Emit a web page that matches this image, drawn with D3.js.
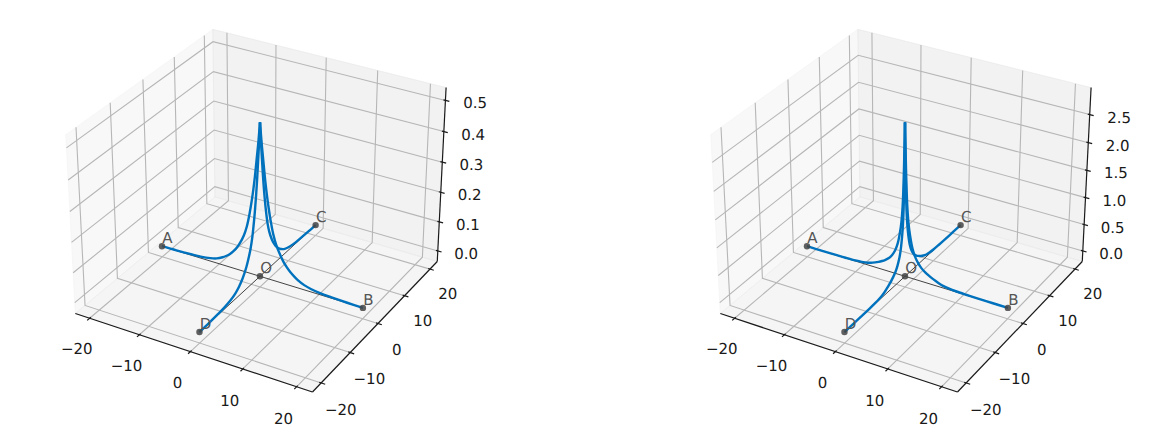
<!DOCTYPE html>
<html>
<head>
<meta charset="utf-8">
<script src="https://cdn.jsdelivr.net/npm/d3@7"></script>
<style>
html, body { margin: 0; padding: 0; background: #fff; }
svg { display: block; }
text { font-family: "DejaVu Sans", sans-serif; text-rendering: geometricPrecision; }
</style>
</head>
<body>
<div id="chart"></div>
<script>
// values
var xTicks = [-20, -10, 0, 10, 20]
var yTicks = [-20, -10, 0, 10, 20]
var zTicksLeft = [0, 0.1, 0.2, 0.3, 0.4, 0.5]
var zTicksRight = [0, 0.5, 1, 1.5, 2, 2.5]
var zLimLeft = [-0.0252, 0.5292]
var zLimRight = [-0.1385, 2.9085]
var xyLim = [-22, 22]

var pointNames = ['A', 'B', 'C', 'D', 'O']
var pointX = [-20, 20, 0, 0, 0]
var pointY = [0, 0, 20, -20, 0]

// distance from O along an arm, and curve height at that distance
var armDist = [0, 0.1, 0.2, 0.33, 0.46, 0.7, 1, 1.3, 1.6, 2, 2.6, 3.2, 4, 4.6, 5.3, 6, 6.8, 7.5, 8.7, 10, 12, 14, 17, 20]
var heightLeft = [0.504, 0.483, 0.463, 0.437, 0.415, 0.375, 0.325, 0.283, 0.247, 0.205, 0.155, 0.122, 0.092, 0.074, 0.058, 0.045, 0.034, 0.026, 0.016, 0.010, 0.005, 0.003, 0.001, 0]
var heightRight = [2.77, 2.35, 1.95, 1.55, 1.28, 0.99, 0.78, 0.63, 0.52, 0.42, 0.32, 0.25, 0.19, 0.155, 0.12, 0.09, 0.06, 0.04, 0.022, 0.012, 0.006, 0.003, 0.001, 0]
// unit direction of each arm, same order as the points A B C D
var armDirX = [-1, 1, 0, 0]
var armDirY = [0, 0, 1, -1]

var width = 1166
var height = 446
var blue = '#0072bd'
var grey = '#444444'
var ink = '#1a1a1a'

var svg = d3.select('#chart').append('svg').attr('width', width).attr('height', height)

// mplot3d style camera, elev 30, azim -60
var camDist = 9
var halfX = 0.5952
var halfZ = 0.4464
var u = [0.866, 0.5, 0]
var v = [-0.25, 0.433, 0.866]
var w = [0.433, -0.75, 0.5]
var pixelX = d3.scaleLinear().domain([0, 1]).range([260, 488])
var pixelY = d3.scaleLinear().domain([0, 1]).range([201, -27])

function dot(a, b) { return a[0] * b[0] + a[1] * b[1] + a[2] * b[2] }

function project(c) {
    var f = camDist / (camDist - dot(w, c))
    return [pixelX(dot(u, c) * f), pixelY(dot(v, c) * f)]
}

function panel(offset, zTicks, zLim, heights, zFormat) {
    var g = svg.append('g').attr('transform', 'translate(' + offset + ',0)')

    // panes sit a little outside the axis limits
    var padXY = (xyLim[1] - xyLim[0]) / 48
    var padZ = (zLim[1] - zLim[0]) / 48
    var sx = d3.scaleLinear().domain([xyLim[0] - padXY, xyLim[1] + padXY]).range([-halfX, halfX])
    var sy = d3.scaleLinear().domain([xyLim[0] - padXY, xyLim[1] + padXY]).range([-halfX, halfX])
    var sz = d3.scaleLinear().domain([zLim[0] - padZ, zLim[1] + padZ]).range([-halfZ, halfZ])
    var p3 = function(x, y, z) { return project([sx(x), sy(y), sz(z)]) }
    var line = d3.line()

    var x0 = sx.domain()[0], x1 = sx.domain()[1]
    var y0 = sy.domain()[0], y1 = sy.domain()[1]
    var z0 = sz.domain()[0], z1 = sz.domain()[1]

    var panes = [
        { fill: 'rgba(242,242,242,0.5)', pts: [[x0, y0, z0], [x0, y1, z0], [x0, y1, z1], [x0, y0, z1]] },
        { fill: 'rgba(230,230,230,0.5)', pts: [[x0, y1, z0], [x1, y1, z0], [x1, y1, z1], [x0, y1, z1]] },
        { fill: 'rgba(236,236,236,0.5)', pts: [[x0, y0, z0], [x1, y0, z0], [x1, y1, z0], [x0, y1, z0]] }
    ]
    g.selectAll('path.pane').data(panes).enter().append('path')
        .attr('class', 'pane')
        .attr('fill', d => d.fill)
        .attr('stroke', d => d.fill)
        .attr('d', d => line(d.pts.map(q => p3(q[0], q[1], q[2]))) + 'Z')

    // grid
    var gridPaths = []
    xTicks.forEach(t => gridPaths.push([p3(t, y0, z0), p3(t, y1, z0), p3(t, y1, z1)]))
    yTicks.forEach(t => gridPaths.push([p3(x1, t, z0), p3(x0, t, z0), p3(x0, t, z1)]))
    zTicks.forEach(t => gridPaths.push([p3(x0, y0, t), p3(x0, y1, t), p3(x1, y1, t)]))
    g.selectAll('path.grid').data(gridPaths).enter().append('path')
        .attr('class', 'grid')
        .attr('fill', 'none')
        .attr('stroke', '#b6b6b6')
        .attr('stroke-width', 1.1)
        .attr('d', line)

    // axis lines
    var axisPaths = [
        [p3(x0, y0, z0), p3(x1, y0, z0)],
        [p3(x1, y0, z0), p3(x1, y1, z0)],
        [p3(x1, y1, z0), p3(x1, y1, z1)]
    ]
    g.selectAll('path.axis').data(axisPaths).enter().append('path')
        .attr('class', 'axis')
        .attr('fill', 'none')
        .attr('stroke', ink)
        .attr('stroke-width', 1.2)
        .attr('d', line)

    // ticks
    var dXY = (xyLim[1] - xyLim[0]) / 12
    var inner = 0.1, outer = 0.2
    var tickPaths = []
    xTicks.forEach(t => tickPaths.push([p3(t, y0 + inner * dXY, z0), p3(t, y0 - outer * dXY, z0)]))
    yTicks.forEach(t => tickPaths.push([p3(x1 - inner * dXY, t, z0), p3(x1 + outer * dXY, t, z0)]))
    zTicks.forEach(t => tickPaths.push([p3(x1 - inner * dXY, y1, t), p3(x1 + outer * dXY, y1, t)]))
    g.selectAll('path.tick').data(tickPaths).enter().append('path')
        .attr('class', 'tick')
        .attr('fill', 'none')
        .attr('stroke', ink)
        .attr('stroke-width', 1.2)
        .attr('d', line)

    // tick labels, pushed away from the box
    var label = function(pos, txt) {
        g.append('text')
            .attr('x', pos[0] - 1)
            .attr('y', pos[1])
            .attr('dy', '0.33em')
            .attr('text-anchor', 'middle')
            .attr('font-size', 15)
            .attr('fill', ink)
            .text(txt)
    }
    var fmt = d3.format('d')
    var outXY = 0.096 / 0.02493
    var outZ = 0.104 * (z1 - z0) / (2 * halfZ)
    xTicks.forEach(t => label(p3(t, y0 - outXY, z0 - outZ), fmt(t).replace('-', '\u2212')))
    yTicks.forEach(t => label(p3(x1 + outXY, t, z0 - outZ), fmt(t).replace('-', '\u2212')))
    zTicks.forEach(t => label(p3(x1 + 0.1234 / 0.02493, y1 + 0.0392 / 0.02493, t), zFormat(t)))

    // the two straight lines through O
    var ab = [p3(pointX[0], pointY[0], 0), p3(pointX[1], pointY[1], 0)]
    var cd = [p3(pointX[2], pointY[2], 0), p3(pointX[3], pointY[3], 0)]
    g.selectAll('path.base').data([ab, cd]).enter().append('path')
        .attr('class', 'base')
        .attr('fill', 'none')
        .attr('stroke', grey)
        .attr('stroke-width', 1)
        .attr('d', line)

    // the four arms
    var curve = d3.line().curve(d3.curveCatmullRom.alpha(0.5))
    armDirX.forEach(function(dx, i) {
        var pts = armDist.map((r, j) => p3(dx * r, armDirY[i] * r, heights[j]))
        g.append('path')
            .attr('fill', 'none')
            .attr('stroke', blue)
            .attr('stroke-width', 2.4)
            .attr('d', curve(pts))
    })

    // points and their names
    pointNames.forEach(function(name, i) {
        var p = p3(pointX[i], pointY[i], 0)
        g.append('circle')
            .attr('cx', p[0])
            .attr('cy', p[1])
            .attr('r', 3.2)
            .attr('fill', grey)
            .attr('fill-opacity', 0.85)
        g.append('text')
            .attr('x', p[0] + 0.3)
            .attr('y', p[1] - 3.2)
            .attr('font-size', 15)
            .attr('fill', '#555')
            .text(name)
    })
}

panel(0, zTicksLeft, zLimLeft, heightLeft, d3.format('.1f'))
panel(645, zTicksRight, zLimRight, heightRight, d3.format('.1f'))
</script>
</body>
</html>
